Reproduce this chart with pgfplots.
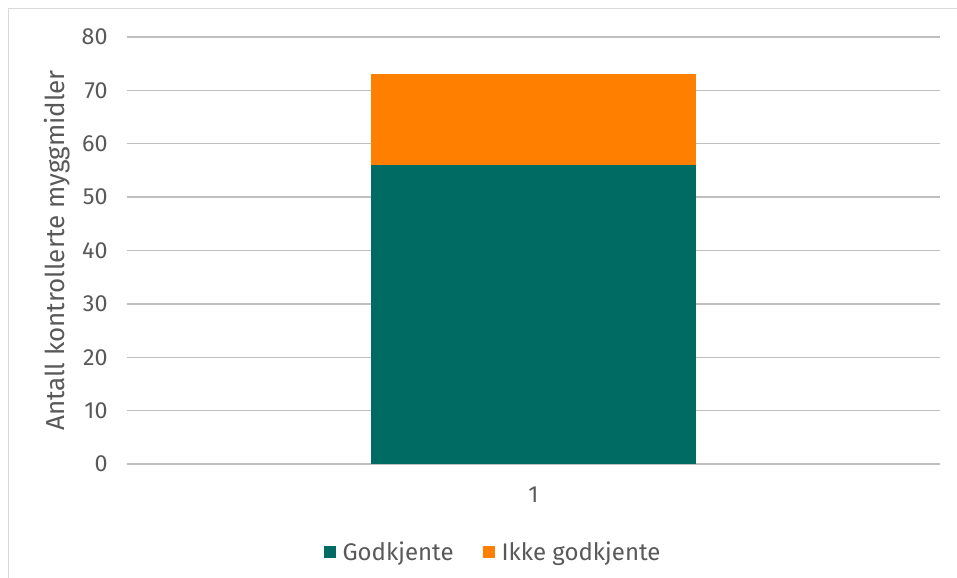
\documentclass[border=0pt]{standalone}
\usepackage{pgfplots}
\pgfplotsset{compat=1.18}
\usepackage{fontspec}
\setmainfont{Fira Sans}
\definecolor{txt}{HTML}{595959}
\definecolor{grid}{HTML}{D9D9D9}
\definecolor{godk}{HTML}{006B63}
\definecolor{ikke}{HTML}{FF8000}
\begin{document}
\begin{tikzpicture}[x=0.75pt,y=0.75pt]
\useasboundingbox (0,0) rectangle (957,578);
\draw[grid,line width=1pt] (8.5,-5) -- (8.5,569.5) -- (962,569.5);
\begin{axis}[
  at={(127*0.75pt,114*0.75pt)}, anchor=south west,
  scale only axis, width=813*0.75pt, height=427*0.75pt,
  ybar stacked, bar width=325*0.75pt,
  ymin=0, ymax=80, ytick={0,10,...,80},
  xmin=0, xmax=2, xtick={1}, xticklabels={1},
  axis line style={draw=none},
  xtick style={draw=none}, ytick style={draw=none},
  xmajorgrids=false, ymajorgrids, grid style={grid,line width=1pt},
  major tick length=0pt,
  tick label style={font=\fontsize{17.5}{20}\selectfont, color=txt},
  /pgf/number format/assume math mode=true,
  yticklabel style={xshift=-11pt},
  xticklabel style={yshift=-14pt},
  ylabel={Antall kontrollerte myggmidler},
  ylabel style={font=\fontsize{19.5}{22}\selectfont, color=txt, yshift=2pt},
  legend style={at={(0.5,-0.168)}, anchor=north, xshift=-30pt, draw=none, legend columns=2,
    font=\fontsize{18}{21}\selectfont, text=txt,
    /tikz/every odd column/.append style={column sep=3pt},
    /tikz/every even column/.append style={column sep=20pt}},
  legend image code/.code={\fill[#1] (0pt,-4.5pt) rectangle (9pt,4.5pt);},
]
\addplot[fill=godk, draw=none] coordinates {(1,56)};
\addplot[fill=ikke, draw=none] coordinates {(1,17)};
\legend{Godkjente, Ikke godkjente}
\end{axis}
\end{tikzpicture}
\end{document}
